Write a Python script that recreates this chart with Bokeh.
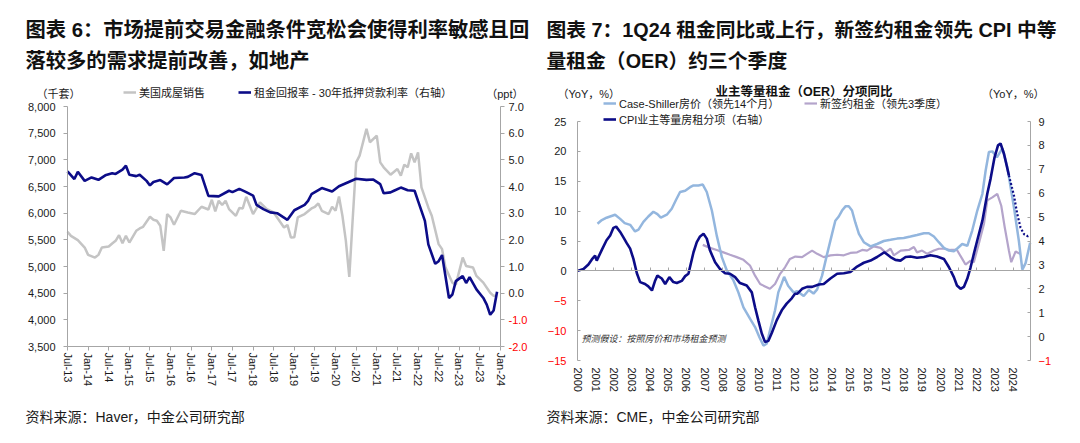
import numpy as np
from bokeh.plotting import figure
from bokeh.models import (Range1d, LinearAxis, FixedTicker, NumeralTickFormatter,
                          Label, Legend, LegendItem)
from bokeh.layouts import row
from bokeh.embed import file_html
from bokeh.resources import INLINE

# ------------------------------------------------------------------ data: chart 6
sales_month = ["2013-07", "2013-08", "2013-10", "2013-12", "2014-01", "2014-03", "2014-04", "2014-05",
               "2014-07", "2014-08", "2014-09", "2014-10", "2014-11", "2014-12", "2015-01", "2015-03",
               "2015-04", "2015-05", "2015-07", "2015-08", "2015-09", "2015-10", "2015-11", "2015-12",
               "2016-01", "2016-02", "2016-04", "2016-06", "2016-08", "2016-10", "2016-12", "2017-01",
               "2017-02", "2017-03", "2017-04", "2017-05", "2017-06", "2017-08", "2017-09", "2017-10",
               "2017-11", "2018-01", "2018-03", "2018-05", "2018-07", "2018-08", "2018-10", "2018-11",
               "2018-12", "2019-01", "2019-02", "2019-04", "2019-06", "2019-07", "2019-08", "2019-09",
               "2019-11", "2019-12", "2020-01", "2020-02", "2020-03", "2020-04", "2020-05", "2020-06",
               "2020-07", "2020-08", "2020-10", "2020-11", "2021-01", "2021-02", "2021-03", "2021-05",
               "2021-07", "2021-08", "2021-09", "2021-10", "2021-11", "2021-12", "2022-01", "2022-02",
               "2022-04", "2022-05", "2022-07", "2022-08", "2022-09", "2022-11", "2022-12", "2023-02",
               "2023-03", "2023-05", "2023-06", "2023-08", "2023-10", "2023-11", "2023-12"]
sales_k = [5650, 5575, 5494, 5355, 5218, 5167, 5218, 5355,
           5374, 5430, 5481, 5588, 5437, 5575, 5449, 5669,
           5713, 5744, 5932, 5876, 5857, 5763, 5293, 5983,
           5920, 5782, 6045, 6013, 5983, 6120, 6069, 6251,
           6032, 6233, 6152, 6233, 6076, 5951, 6095, 6089,
           6308, 5983, 6201, 6076, 6013, 5920, 5732, 5780,
           5545, 5550, 5920, 5983, 6088, 6120, 6182, 6045,
           5983, 6120, 6045, 6314, 5951, 5481, 4804, 5900,
           6953, 7079, 7580, 7330, 7455, 6953, 6860, 6722,
           6828, 6703, 6910, 6860, 7122, 6953, 7141, 6483,
           6107, 5951, 5419, 5325, 4979, 4697, 4660, 5167,
           5011, 4980, 4823, 4697, 4508, 4450, 4450]

spread_month = ["2013-07", "2013-09", "2013-10", "2013-12", "2014-02", "2014-04", "2014-06", "2014-08",
                "2014-09", "2014-11", "2014-12", "2015-01", "2015-03", "2015-04", "2015-06", "2015-07",
                "2015-08", "2015-10", "2015-12", "2016-02", "2016-05", "2016-06", "2016-08", "2016-10",
                "2016-12", "2017-03", "2017-06", "2017-07", "2017-09", "2017-11", "2018-01", "2018-02",
                "2018-04", "2018-06", "2018-08", "2018-11", "2019-01", "2019-04", "2019-05", "2019-06",
                "2019-09", "2019-12", "2020-02", "2020-05", "2020-07", "2020-10", "2020-12", "2021-02",
                "2021-03", "2021-05", "2021-06", "2021-08", "2021-10", "2021-12", "2022-01", "2022-03",
                "2022-04", "2022-06", "2022-07", "2022-08", "2022-10", "2022-11", "2022-12", "2023-02",
                "2023-03", "2023-04", "2023-06", "2023-08", "2023-09", "2023-10", "2023-11", "2023-12"]
spread_ppt = [4.57, 4.28, 4.55, 4.21, 4.34, 4.25, 4.42, 4.50,
              4.47, 4.63, 4.78, 4.44, 4.39, 4.44, 4.21, 4.04,
              4.17, 4.24, 4.08, 4.32, 4.34, 4.36, 4.50, 4.43,
              3.65, 3.63, 3.84, 3.79, 3.91, 3.79, 3.66, 3.31,
              3.15, 3.03, 3.00, 2.75, 3.11, 3.31, 3.46, 3.71,
              3.94, 3.81, 4.01, 4.18, 4.29, 4.25, 4.26, 4.09,
              3.75, 3.78, 3.84, 3.96, 3.86, 3.84, 3.46, 2.71,
              1.83, 1.10, 1.20, 1.43, -0.18, -0.05, 0.45, 0.64,
              0.38, 0.60, 0.14, -0.18, -0.43, -0.81, -0.65, 0.05]

sales_tick_labels = ["Jul-13", "Jan-14", "Jul-14", "Jan-15", "Jul-15", "Jan-16", "Jul-16", "Jan-17",
                     "Jul-17", "Jan-18", "Jul-18", "Jan-19", "Jul-19", "Jan-20", "Jul-20", "Jan-21",
                     "Jul-21", "Jan-22", "Jul-22", "Jan-23", "Jul-23", "Jan-24"]
sales_axis_ticks = [3500, 4000, 4500, 5000, 5500, 6000, 6500, 7000, 7500, 8000]
spread_axis_ticks = [-2, -1, 0, 1, 2, 3, 4, 5, 6, 7]

# ------------------------------------------------------------------ data: chart 7
cs_year = [2001.10, 2001.34, 2001.60, 2002.07, 2002.35, 2002.60, 2002.90, 2003.17, 2003.36, 2003.63,
           2003.90, 2004.18, 2004.40, 2004.59, 2004.92, 2005.19, 2005.43, 2005.65, 2005.93, 2006.20,
           2006.39, 2006.66, 2006.90, 2007.12, 2007.40, 2007.67, 2007.95, 2008.22, 2008.59, 2008.86,
           2009.14, 2009.50, 2009.78, 2010.02, 2010.24, 2010.42, 2010.60, 2010.88, 2011.06, 2011.25,
           2011.38, 2011.60, 2011.90, 2012.10, 2012.46, 2012.74, 2013.00, 2013.20, 2013.47, 2013.75,
           2014.02, 2014.20, 2014.39, 2014.57, 2014.76, 2014.94, 2015.12, 2015.30, 2015.50, 2015.77,
           2016.14, 2016.50, 2016.87, 2017.24, 2017.60, 2017.97, 2018.34, 2018.70, 2019.08, 2019.35,
           2019.63, 2019.90, 2020.18, 2020.46, 2020.73, 2020.90, 2021.19, 2021.47, 2021.74, 2022.02,
           2022.30, 2022.48, 2022.66, 2022.85, 2023.10, 2023.40, 2023.67, 2024.04, 2024.31, 2024.50,
           2024.68, 2024.93]
cs_yoy = [7.9, 8.5, 8.9, 9.4, 8.7, 8.0, 7.7, 6.6, 6.9, 8.2,
          9.1, 9.9, 9.5, 8.9, 9.4, 10.4, 11.9, 13.2, 13.4, 14.0,
          14.3, 14.3, 14.45, 13.2, 10.1, 5.9, 2.3, 0.1, -1.6, -3.6,
          -6.1, -8.0, -9.4, -11.1, -12.5, -12.2, -10.0, -6.6, -3.6, -2.1,
          -1.0, -2.5, -3.6, -3.4, -4.2, -3.2, -3.8, -3.1, -0.8, 2.85,
          6.2, 8.4, 9.1, 10.1, 10.8, 10.8, 10.1, 8.1, 6.2, 4.8,
          4.1, 4.5, 5.0, 5.2, 5.4, 5.5, 5.75, 6.0, 6.3, 6.3,
          5.75, 4.8, 3.85, 3.4, 3.3, 3.7, 4.5, 4.2, 6.75, 10.1,
          12.9, 16.8, 19.9, 20.0, 19.0, 20.5, 17.4, 10.6, 5.0, 0.2,
          1.3, 4.7]

lease_year = [2006.90, 2007.30, 2007.67, 2008.04, 2008.40, 2008.77, 2009.14, 2009.50, 2009.78, 2010.06,
              2010.33, 2010.60, 2010.88, 2011.16, 2011.43, 2011.70, 2012.00, 2012.37, 2012.64, 2012.92,
              2013.20, 2013.56, 2013.93, 2014.30, 2014.67, 2015.03, 2015.40, 2015.68, 2015.95, 2016.32,
              2016.69, 2016.96, 2017.24, 2017.42, 2017.80, 2018.25, 2018.53, 2018.70, 2018.98, 2019.26,
              2019.63, 2019.90, 2020.18, 2020.54, 2020.90, 2021.19, 2021.37, 2021.65, 2021.83, 2022.10,
              2022.39, 2022.57, 2022.85, 2023.12, 2023.34, 2023.53, 2023.76, 2023.89, 2024.13, 2024.40]
lease_yoy = [4.35, 3.85, 3.5, 3.1, 2.7, 2.3, 1.85, 0.9, -0.8, -2.2,
             -2.6, -3.0, -2.2, -0.5, 0.6, 2.0, 2.4, 2.3, 2.85, 3.4,
             2.85, 2.3, 2.6, 2.7, 2.6, 3.0, 3.1, 3.5, 3.4, 4.1,
             3.85, 3.1, 3.7, 2.6, 3.4, 3.5, 4.0, 3.1, 3.4, 2.85,
             3.4, 3.7, 3.7, 3.5, 3.5, 2.0, 1.06, 1.7, 1.45, 4.5,
             7.9, 11.8, 12.3, 12.9, 10.9, 7.3, 3.4, 1.45, 3.25, 2.8]

oer_year = [2000.00, 2000.33, 2000.60, 2000.79, 2000.97, 2001.06, 2001.34, 2001.60, 2001.80, 2001.98,
            2002.13, 2002.35, 2002.53, 2002.72, 2002.90, 2003.08, 2003.27, 2003.45, 2003.72, 2003.90,
            2004.10, 2004.28, 2004.40, 2004.64, 2004.83, 2005.06, 2005.28, 2005.47, 2005.74, 2005.93,
            2006.11, 2006.39, 2006.57, 2006.75, 2006.94, 2007.12, 2007.30, 2007.58, 2007.85, 2008.13,
            2008.40, 2008.68, 2008.95, 2009.32, 2009.60, 2009.78, 2009.96, 2010.15, 2010.33, 2010.51,
            2010.70, 2010.97, 2011.25, 2011.52, 2011.80, 2011.98, 2012.10, 2012.37, 2012.64, 2012.92,
            2013.29, 2013.56, 2013.93, 2014.30, 2014.67, 2015.03, 2015.40, 2015.77, 2016.14, 2016.50,
            2016.90, 2017.24, 2017.51, 2017.79, 2018.07, 2018.34, 2018.70, 2019.08, 2019.44, 2019.81,
            2020.18, 2020.46, 2020.73, 2020.90, 2021.10, 2021.28, 2021.47, 2021.65, 2021.83, 2022.02,
            2022.30, 2022.57, 2022.75, 2022.97, 2023.16, 2023.30, 2023.49, 2023.76]
oer_yoy = [2.75, 2.83, 3.02, 3.23, 3.39, 3.18, 3.63, 4.03, 4.23, 4.55,
           4.60, 4.38, 4.15, 3.90, 3.68, 3.25, 2.65, 2.28, 2.20, 2.10,
           1.93, 2.35, 2.55, 2.43, 2.20, 2.49, 2.28, 2.24, 2.33, 2.53,
           2.63, 3.53, 3.95, 4.19, 4.30, 4.10, 3.60, 3.11, 2.83, 2.65,
           2.63, 2.49, 2.24, 2.14, 1.85, 1.23, 0.68, 0.13, -0.23, -0.18,
           0.15, 0.68, 1.10, 1.38, 1.60, 1.79, 1.79, 2.00, 2.08, 2.08,
           2.18, 2.20, 2.43, 2.63, 2.65, 2.70, 2.93, 3.09, 3.18, 3.33,
           3.53, 3.33, 3.21, 3.18, 3.33, 3.35, 3.30, 3.33, 3.40, 3.35,
           3.25, 2.90, 2.49, 2.14, 2.00, 2.08, 2.43, 2.90, 3.46, 4.03,
           4.85, 5.98, 6.60, 7.50, 8.00, 8.08, 7.65, 6.75]

oer_fc_year = [2023.76, 2024.04, 2024.22, 2024.40, 2024.60, 2024.80, 2024.93]
oer_fc_yoy = [6.75, 5.90, 5.13, 4.56, 4.28, 4.20, 4.25]

oer_year_ticks = list(range(2000, 2025))
oer_left_ticks = [-15, -10, -5, 0, 5, 10, 15, 20, 25]
oer_right_ticks = [-1, 0, 1, 2, 3, 4, 5, 6, 7, 8, 9]

# ------------------------------------------------------------------ style / layout
FONT = "Liberation Sans, Noto Sans CJK SC"
NUMF = "Liberation Sans"
TXT = "#1a1a1a"
AX = "#a6a6a6"
RED = "#ff0000"
GREY = "#c4c4c4"
NAVY = "#0c0c88"
LBLUE = "#93b6de"
LAV = "#b4a4cb"

W, H = 532, 427
TOP = 0                                    # canvas top on the screenshot


def span_range(d0, d1, p0, p1, c0, c1):
    """Range whose ends fall on canvas pixels c0/c1 when d0/d1 sit on pixels p0/p1."""
    k = (d1 - d0) / (p1 - p0)
    return Range1d(d0 + (c0 - p0) * k, d0 + (c1 - p0) * k)


def month_index(s):
    return (int(s[:4]) - 2013) * 12 + int(s[5:7]) - 7


def add_axis(p, side, loc, ticks, bounds=None, range_name=None, color=TXT, line=True,
             tick_in=0, tick_out=4, standoff=4, fmt=None, overrides=None, orient=None, tick_color=AX):
    kw = {}
    if range_name:
        kw["y_range_name"] = range_name
    ax = LinearAxis(fixed_location=loc, ticker=FixedTicker(ticks=ticks), **kw)
    if bounds is not None:
        ax.bounds = bounds
    if fmt is not None:
        ax.formatter = fmt
    if overrides is not None:
        ax.major_label_overrides = overrides
    if orient is not None:
        ax.major_label_orientation = orient
    ax.axis_line_color = AX if line else None
    ax.major_tick_line_color = tick_color
    ax.major_tick_in = tick_in
    ax.major_tick_out = tick_out
    ax.minor_tick_line_color = None
    ax.major_label_text_font = NUMF
    ax.major_label_text_font_size = "11px"
    ax.major_label_text_color = color
    ax.major_label_standoff = standoff
    p.add_layout(ax, side)
    return ax


def new_fig(x_range, y_range):
    p = figure(width=W, height=H, output_backend="svg", toolbar_location=None,
               x_range=x_range, y_range=y_range, x_axis_location=None, y_axis_location=None,
               min_border=0, min_border_left=0, min_border_right=0,
               min_border_top=0, min_border_bottom=0)
    p.grid.visible = False
    p.outline_line_color = None
    p.background_fill_color = "white"
    p.border_fill_color = "white"
    return p


def add_text(p, ox, px, py, text, size=11, color=TXT, align="left", style="normal", font=FONT):
    p.add_layout(Label(x=px - ox, y=TOP + H - py, x_units="screen", y_units="screen", text=text,
                       text_font=font, text_font_size=f"{size}px", text_font_style=style,
                       text_color=color, text_align=align, text_baseline="middle"))


def add_key(p, ox, px, py_center, label, renderer):
    """One legend entry whose line sample starts at page x px, centred on page y py_center."""
    p.add_layout(Legend(items=[LegendItem(label=label, renderers=[renderer])],
                        location=(px - ox, TOP + H - py_center - 6), orientation="horizontal",
                        padding=0, margin=0, border_line_alpha=0, background_fill_alpha=0,
                        glyph_width=13, glyph_height=12, label_height=12, label_standoff=3,
                        label_text_font=FONT, label_text_font_size="11px", label_text_color=TXT),
                 "center")


# ------------------------------------------------------------------ chart 6
OX1 = 0                                      # canvas left on the screenshot
A1 = dict(left=67, right=500, top=106, bottom=346)   # plot area on the screenshot
x0, x1 = 0, 6 * (len(sales_tick_labels) - 1)
p1 = new_fig(span_range(x0, x1, A1["left"], A1["right"], OX1, OX1 + W),
             span_range(3500, 8000, A1["bottom"], A1["top"], TOP + H, TOP))
p1.extra_y_ranges = {"ppt": span_range(-2, 7, A1["bottom"], A1["top"], TOP + H, TOP)}

r_sales = p1.line([month_index(m) for m in sales_month], sales_k, color=GREY, line_width=2.5)
r_spread = p1.line([month_index(m) for m in spread_month], spread_ppt, color=NAVY, line_width=2.6,
                   y_range_name="ppt")

xt1 = list(range(x0, x1 + 1, 6))
add_axis(p1, "below", 3500, xt1, bounds=(x0, x1), tick_out=4, standoff=2,
         overrides={t: lab for t, lab in zip(xt1, sales_tick_labels)}, orient="vertical")
add_axis(p1, "left", x0, sales_axis_ticks, bounds=(3500, 8000), tick_out=4, standoff=8,
         fmt=NumeralTickFormatter(format="0,0"))
add_axis(p1, "right", x1, [t for t in spread_axis_ticks if t >= 0], bounds=(-2, 7), range_name="ppt",
         tick_out=4, standoff=4, fmt=NumeralTickFormatter(format="0.0"))
add_axis(p1, "right", x1, [t for t in spread_axis_ticks if t < 0], range_name="ppt", line=False,
         color=RED, tick_out=4, standoff=4, fmt=NumeralTickFormatter(format="0.0"))

add_key(p1, OX1, 123, 94, "美国成屋销售", r_sales)
add_key(p1, OX1, 238, 94, "租金回报率 - 30年抵押贷款利率（右轴）", r_spread)

add_text(p1, OX1, 25, 29, "图表 6：市场提前交易金融条件宽松会使得利率敏感且回", 20.3, "#111", style="bold")
add_text(p1, OX1, 25, 60, "落较多的需求提前改善，如地产", 20.3, "#111", style="bold")
add_text(p1, OX1, 36, 93, "（千套）", 11)
add_text(p1, OX1, 523, 93, "（ppt）", 11, align="right")
add_text(p1, OX1, 25, 416, "资料来源：Haver，中金公司研究部", 14)

# ------------------------------------------------------------------ chart 7
OX2 = OX1 + W
A2 = dict(left=577, right=1030, top=121, bottom=360)
y0, y1 = oer_year_ticks[0], 2024.95
p2 = new_fig(span_range(y0, y1, A2["left"], A2["right"], OX2, OX2 + W),
             span_range(-15, 25, A2["bottom"], A2["top"], TOP + H, TOP))
p2.extra_y_ranges = {"r": span_range(-1, 9, A2["bottom"], A2["top"], TOP + H, TOP)}

r_lease = p2.line(lease_year, lease_yoy, color=LAV, line_width=2.2)
r_cs = p2.line(cs_year, cs_yoy, color=LBLUE, line_width=2.5)
r_oer = p2.line(oer_year, oer_yoy, color=NAVY, line_width=2.6, y_range_name="r")
p2.line(oer_fc_year, oer_fc_yoy, color=NAVY, line_width=2.2, line_dash="2 2", y_range_name="r")

add_axis(p2, "below", -15, oer_year_ticks, line=False, tick_color=None, tick_out=0, standoff=7,
         overrides={t: str(t) for t in oer_year_ticks}, orient="vertical")
add_axis(p2, "below", 0, oer_year_ticks, bounds=(y0, y1), tick_in=3, tick_out=0, standoff=0,
         overrides={t: "" for t in oer_year_ticks})
add_axis(p2, "left", y0, [t for t in oer_left_ticks if t >= 0], bounds=(-15, 25),
         tick_in=3, tick_out=0, standoff=11)
add_axis(p2, "left", y0, [t for t in oer_left_ticks if t < 0], line=False, color=RED,
         tick_in=3, tick_out=0, standoff=11)
add_axis(p2, "right", y1, [t for t in oer_right_ticks if t >= 0], bounds=(-1, 9), range_name="r",
         tick_in=3, tick_out=0, standoff=8)
add_axis(p2, "right", y1, [t for t in oer_right_ticks if t < 0], range_name="r", line=False,
         color=RED, tick_in=3, tick_out=0, standoff=8)

add_key(p2, OX2, 603, 105, "Case-Shiller房价（领先14个月）", r_cs)
add_key(p2, OX2, 804, 105, "新签约租金（领先3季度）", r_lease)
add_key(p2, OX2, 603, 121, "CPI业主等量房租分项（右轴）", r_oer)

add_text(p2, OX2, 546, 29, "图表 7：1Q24 租金同比或上行，新签约租金领先 CPI 中等", 19.8, "#111", style="bold")
add_text(p2, OX2, 546, 60, "量租金（OER）约三个季度", 19.8, "#111", style="bold")
add_text(p2, OX2, 557, 93, "（YoY，%）", 11)
add_text(p2, OX2, (A2["left"] + A2["right"]) / 2, 91.5, "业主等量租金（OER）分项同比", 12.5, "#111",
         align="center", style="bold")
add_text(p2, OX2, 1044, 93, "（YoY，%）", 11, align="right")
add_text(p2, OX2, 581, 338, "预测假设：按照房价和市场租金预测", 9, "#333", style="italic")
add_text(p2, OX2, 546, 416, "资料来源：CME，中金公司研究部", 14)

layout = row(p1, p2)
open("out.html", "w").write(file_html(layout, INLINE))
